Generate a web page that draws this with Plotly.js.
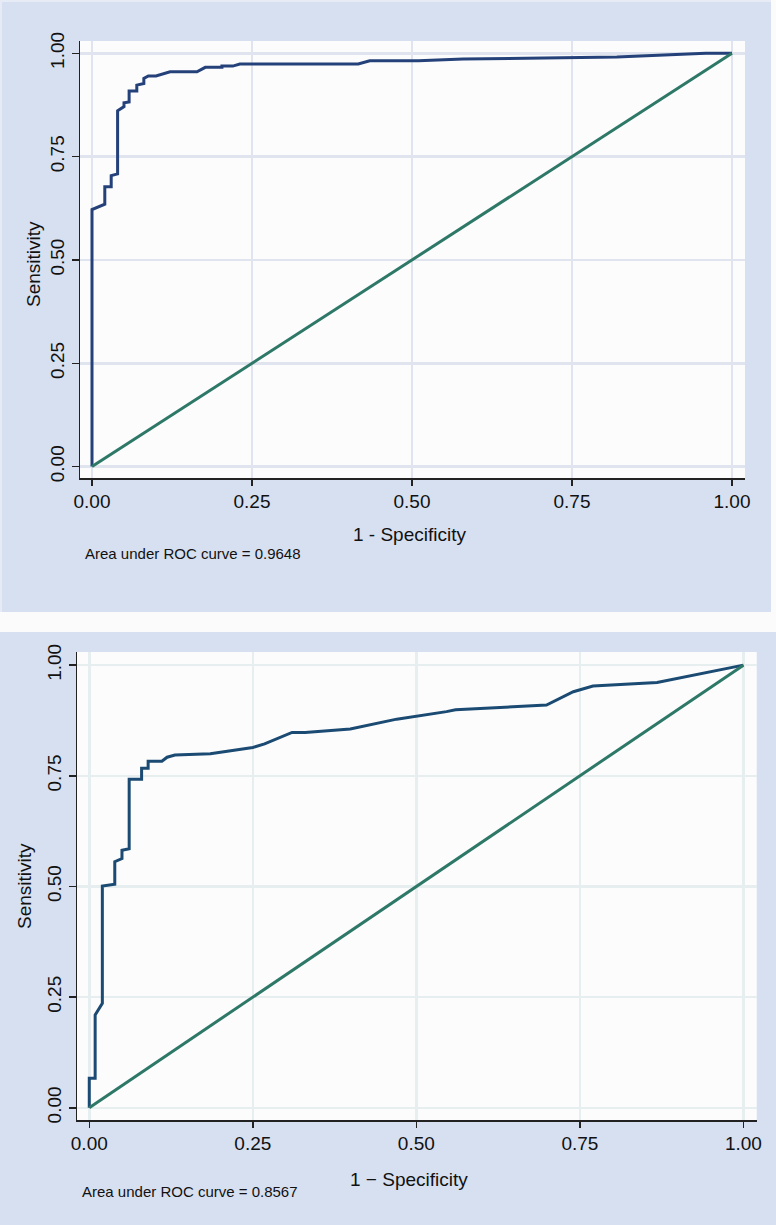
<!DOCTYPE html>
<html><head><meta charset="utf-8">
<script src="https://cdn.plot.ly/plotly-3.0.1.min.js"></script>
<style>html,body{margin:0;padding:0;background:#fbfbfb}#chart{width:776px;height:1225px}</style>
</head><body><div id="chart"></div>
<script>
// ---- data ----
const tickVals = [0, 0.25, 0.5, 0.75, 1];
const tickLabels = ["0.00", "0.25", "0.50", "0.75", "1.00"];

// ROC curve, panel 1 (1 - specificity, sensitivity)
const roc1X = [0, 0, 0.020, 0.020, 0.030, 0.030, 0.040, 0.040, 0.050, 0.050, 0.058, 0.058, 0.070, 0.070, 0.081, 0.081, 0.088, 0.100, 0.122, 0.164, 0.177, 0.203, 0.203, 0.220, 0.231, 0.416, 0.434, 0.510, 0.580, 0.750, 0.820, 0.959, 1.0];
const roc1Y = [0, 0.622, 0.635, 0.677, 0.677, 0.704, 0.708, 0.861, 0.871, 0.880, 0.882, 0.909, 0.909, 0.923, 0.927, 0.939, 0.945, 0.945, 0.955, 0.955, 0.966, 0.966, 0.969, 0.969, 0.974, 0.974, 0.982, 0.982, 0.986, 0.990, 0.991, 1.0, 1.0];

// ROC curve, panel 2
const roc2X = [0, 0, 0.009, 0.009, 0.020, 0.020, 0.039, 0.039, 0.050, 0.050, 0.061, 0.061, 0.080, 0.080, 0.090, 0.090, 0.111, 0.119, 0.131, 0.185, 0.250, 0.268, 0.310, 0.330, 0.399, 0.470, 0.546, 0.560, 0.699, 0.740, 0.770, 0.868, 1.0];
const roc2Y = [0, 0.067, 0.067, 0.210, 0.236, 0.501, 0.505, 0.556, 0.563, 0.582, 0.585, 0.742, 0.742, 0.767, 0.767, 0.783, 0.783, 0.792, 0.797, 0.800, 0.814, 0.822, 0.848, 0.848, 0.856, 0.878, 0.895, 0.899, 0.910, 0.940, 0.953, 0.961, 1.0];

// reference (chance) line
const refX = [0, 1];
const refY = [0, 1];

const auc1Label = "Area under ROC curve = 0.9648";
const auc2Label = "Area under ROC curve = 0.8567";
const xTitle1 = "1 - Specificity";
const xTitle2 = "1 \u2212 Specificity";
const yTitle = "Sensitivity";

// ---- layout helpers ----
const W = 776, H = 1225;
const fx = px => px / W;
const fy = py => 1 - py / H;
const FONT = "Liberation Sans, Arial, Helvetica, sans-serif";
const PANEL = "#d7e0f0";

function xAxis(dom, grid, anchor) {
  return {
    domain: dom, range: [-0.01875, 1.0203], anchor: anchor,
    tickmode: "array", tickvals: tickVals, ticktext: tickLabels,
    showgrid: true, gridcolor: grid, gridwidth: 2.5, zeroline: false,
    showline: true, linecolor: "#222", linewidth: 1.5, mirror: false,
    ticks: "outside", ticklen: 6, tickwidth: 1.5, tickcolor: "#222",
    tickfont: {family: FONT, size: 19, color: "#111"}, fixedrange: true
  };
}
function yAxis(dom, grid, anchor) {
  return {
    domain: dom, range: [-0.0276, 1.0297], anchor: anchor,
    tickmode: "array", tickvals: tickVals, ticktext: tickLabels, tickangle: -90,
    showgrid: true, gridcolor: grid, gridwidth: 2.5, zeroline: false,
    showline: true, linecolor: "#222", linewidth: 1.5, mirror: false,
    ticks: "outside", ticklen: 7, tickwidth: 1.5, tickcolor: "#222",
    tickfont: {family: FONT, size: 19, color: "#111"}, fixedrange: true
  };
}

const traces = [
  {x: roc1X, y: roc1Y, xaxis: "x", yaxis: "y", mode: "lines", line: {color: "#24417a", width: 3}, hoverinfo: "skip"},
  {x: refX, y: refY, xaxis: "x", yaxis: "y", mode: "lines", line: {color: "#2e7868", width: 3}, hoverinfo: "skip"},
  {x: roc2X, y: roc2Y, xaxis: "x2", yaxis: "y2", mode: "lines", line: {color: "#1b4a73", width: 3}, hoverinfo: "skip"},
  {x: refX, y: refY, xaxis: "x2", yaxis: "y2", mode: "lines", line: {color: "#2e7868", width: 3}, hoverinfo: "skip"}
];

const layout = {
  width: W, height: H,
  margin: {l: 0, r: 0, t: 0, b: 0},
  paper_bgcolor: PANEL, plot_bgcolor: "#fcfcfd",
  showlegend: false,
  font: {family: FONT, color: "#111"},
  xaxis: xAxis([fx(80), fx(745)], "#dfe4ee", "y"),
  yaxis: yAxis([fy(478), fy(41)], "#dfe4ee", "x"),
  xaxis2: xAxis([fx(77), fx(756.7)], "#e6eef0", "y2"),
  yaxis2: yAxis([fy(1120), fy(652)], "#e6eef0", "x2"),
  shapes: [
    {type: "rect", xref: "paper", yref: "paper", x0: 0, x1: 1, y0: fy(632), y1: fy(612), fillcolor: "#fbfbfb", line: {width: 0}, layer: "below"},
    {type: "rect", xref: "paper", yref: "paper", x0: fx(771), x1: 1, y0: fy(612), y1: 1, fillcolor: "#fbfbfb", line: {width: 0}, layer: "below"},
    {type: "rect", xref: "paper", yref: "paper", x0: 0, x1: fx(771), y0: fy(2), y1: 1, fillcolor: "#e6ebf5", line: {width: 0}, layer: "below"},
    {type: "rect", xref: "paper", yref: "paper", x0: 0, x1: fx(2), y0: fy(612), y1: 1, fillcolor: "#e6ebf5", line: {width: 0}, layer: "below"}
  ],
  annotations: [
    {xref: "paper", yref: "paper", x: fx(409), y: fy(534), text: xTitle1, showarrow: false, xanchor: "center", yanchor: "middle", font: {family: FONT, size: 19, color: "#111"}},
    {xref: "paper", yref: "paper", x: fx(33), y: fy(264), text: yTitle, showarrow: false, textangle: -90, xanchor: "center", yanchor: "middle", font: {family: FONT, size: 19, color: "#111"}},
    {xref: "paper", yref: "paper", x: fx(83), y: fy(553), text: auc1Label, showarrow: false, xanchor: "left", yanchor: "middle", font: {family: FONT, size: 15, color: "#111"}},
    {xref: "paper", yref: "paper", x: fx(409), y: fy(1179), text: xTitle2, showarrow: false, xanchor: "center", yanchor: "middle", font: {family: FONT, size: 19, color: "#111"}},
    {xref: "paper", yref: "paper", x: fx(24), y: fy(886), text: yTitle, showarrow: false, textangle: -90, xanchor: "center", yanchor: "middle", font: {family: FONT, size: 19, color: "#111"}},
    {xref: "paper", yref: "paper", x: fx(80), y: fy(1191), text: auc2Label, showarrow: false, xanchor: "left", yanchor: "middle", font: {family: FONT, size: 15, color: "#111"}}
  ]
};

Plotly.newPlot("chart", traces, layout, {displayModeBar: false, staticPlot: true});
</script>
</body></html>
